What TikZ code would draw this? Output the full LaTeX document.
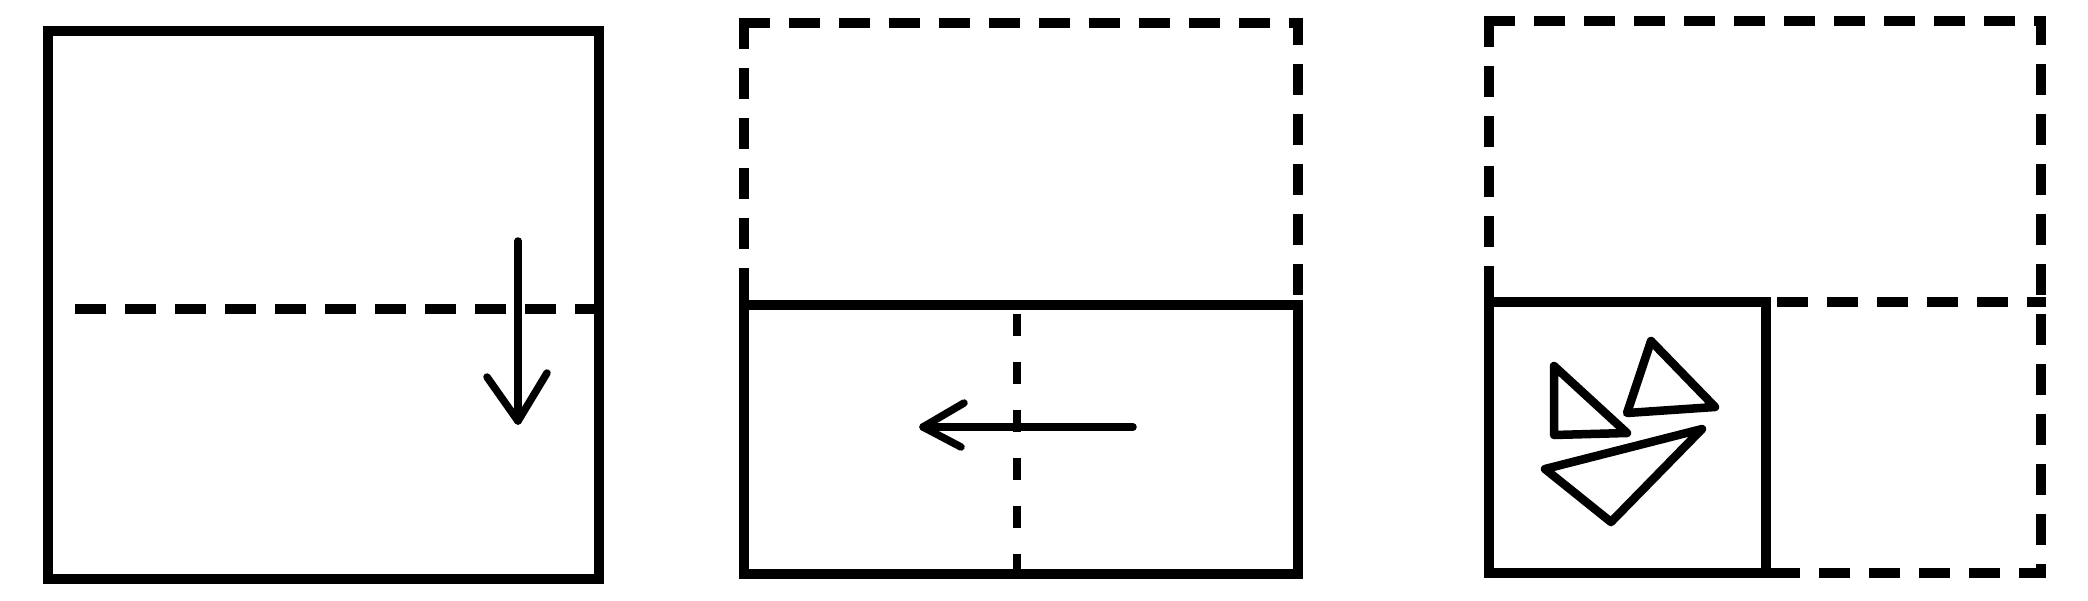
\documentclass[tikz,border=0pt]{standalone}
\begin{document}
\begin{tikzpicture}[x=1pt,y=-1pt,
  solidline/.style={line width=10.5pt,line join=miter},
  dashline/.style={line width=9.5pt,dash pattern=on 21pt off 29pt,line cap=rect},
  arrowline/.style={line width=7.5pt,line cap=round,line join=round},
  shard/.style={line width=8.5pt,line join=round}]
\useasboundingbox (0,0) rectangle (2088,600);
% ---------- Panel 1 ----------
\coordinate (p1tl) at (48,31);
\coordinate (p1br) at (599,579);
\draw[solidline] (p1tl) rectangle (p1br);
\coordinate (p1dl) at (56,309);
\coordinate (p1dr) at (591,309);
\draw[dashline,dash phase=-24pt] (p1dl) -- (p1dr);
\coordinate (a1s) at (518,241);
\coordinate (a1t) at (518,421);
\coordinate (a1l) at (487,377);
\coordinate (a1r) at (547,373);
\draw[arrowline] (a1s) -- (a1t);
\draw[arrowline] (a1l) -- (a1t) -- (a1r);
% ---------- Panel 2 ----------
\coordinate (p2a) at (744,305);
\coordinate (p2b) at (744,23);
\coordinate (p2c) at (1298,23);
\coordinate (p2d) at (1298,305);
\coordinate (p2e) at (1298,574);
\coordinate (p2f) at (744,574);
\coordinate (p2g) at (744,290);
\draw[dashline] (p2b) -- (p2a);
\draw[dashline] (p2b) -- (p2c) -- (p2d);
\draw[solidline] (p2g) -- (p2f) -- (p2e) -- (p2d) -- (p2a);
\coordinate (p2mt) at (1017,313);
\coordinate (p2mb) at (1017,566);
\draw[dashline,line width=8pt,dash pattern=on 14pt off 34pt,dash phase=-5pt] (p2mt) -- (p2mb);
\coordinate (a2s) at (1133,427);
\coordinate (a2t) at (923,427);
\coordinate (a2u) at (964,403);
\coordinate (a2d) at (961,447);
\draw[arrowline] (a2s) -- (a2t);
\draw[arrowline] (a2u) -- (a2t) -- (a2d);
% ---------- Panel 3 ----------
\coordinate (p3a) at (1489,302);
\coordinate (p3b) at (1489,21);
\coordinate (p3c) at (2041,21);
\coordinate (p3d) at (2041,573);
\coordinate (p3e) at (1766,573);
\coordinate (p3f) at (1766,302);
\coordinate (p3g) at (2041,302);
\draw[dashline] (p3b) -- (p3a);
\draw[dashline] (p3b) -- (p3c) -- (p3d) -- (p3e);
\draw[dashline,dash phase=-16pt] (p3f) -- (p3g);
\draw[solidline] (p3a) rectangle (p3e);
% triangles
\coordinate (t1a) at (1554,366);
\coordinate (t1b) at (1554,435);
\coordinate (t1c) at (1627,433);
\draw[shard] (t1a) -- (t1b) -- (t1c) -- cycle;
\coordinate (t2a) at (1651,341);
\coordinate (t2b) at (1627,413);
\coordinate (t2c) at (1715,407);
\draw[shard] (t2a) -- (t2b) -- (t2c) -- cycle;
\coordinate (t3a) at (1545,469);
\coordinate (t3b) at (1702,429);
\coordinate (t3c) at (1611,522);
\draw[shard] (t3a) -- (t3b) -- (t3c) -- cycle;
\end{tikzpicture}
\end{document}
